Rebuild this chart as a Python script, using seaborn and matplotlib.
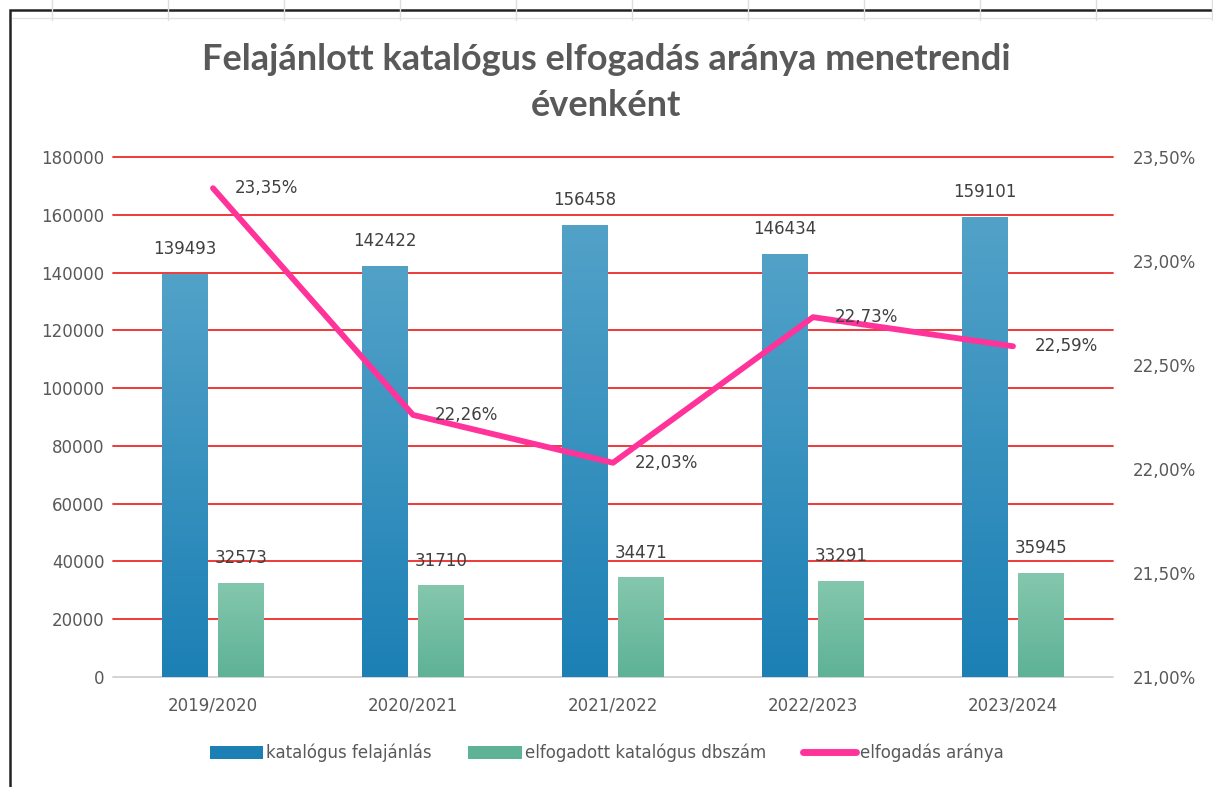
import numpy as np
import pandas as pd
import matplotlib
matplotlib.use('Agg')
import matplotlib.pyplot as plt
import seaborn as sns
from matplotlib.patches import Patch, Rectangle
from matplotlib.lines import Line2D
from matplotlib.colors import LinearSegmentedColormap

# adatok
evek = ['2019/2020', '2020/2021', '2021/2022', '2022/2023', '2023/2024']
felajanlas = [139493, 142422, 156458, 146434, 159101]
elfogadott = [32573, 31710, 34471, 33291, 35945]
arany = [23.35, 22.26, 22.03, 22.73, 22.59]

nev_kek = 'katalógus felajánlás'
nev_zold = 'elfogadott katalógus dbszám'
nev_vonal = 'elfogadás aránya'

df = pd.DataFrame({
    'ev': evek * 2,
    'ertek': felajanlas + elfogadott,
    'sorozat': [nev_kek] * 5 + [nev_zold] * 5,
})

sns.set_style('white')
plt.rcParams['font.family'] = ['DejaVu Sans']

kek_fent, kek_lent = '#52a2c8', '#1c80b5'
zold_fent, zold_lent = '#84c7ae', '#5eb296'
pink = '#ff3399'
szurke = '#595959'

fig = plt.figure(figsize=(12.13, 7.87), dpi=100)
ax = fig.add_axes([113 / 1213, 1 - 677 / 787, 1000 / 1213, 520 / 787])

sns.barplot(data=df, x='ev', y='ertek', hue='sorozat', order=evek,
            hue_order=[nev_kek, nev_zold], palette=[kek_lent, zold_lent],
            width=0.56, gap=0.18, ax=ax, legend=False, zorder=3)

ax.set_xlim(-0.5, 4.5)
ax.set_ylim(0, 180000)
ax.set_yticks(np.arange(0, 180001, 20000))
ax.set_xlabel('')
ax.set_ylabel('')
for s in ax.spines.values():
    s.set_visible(False)

# racsvonalak
for v in np.arange(20000, 180001, 20000):
    ax.axhline(v, color='#ee2a2a', lw=1.3, zorder=1, clip_on=False)
ax.axhline(0, color='#d0d0d0', lw=1.3, zorder=1, clip_on=False)

# szinatmenet a oszlopokon
bars = list(ax.patches)
for i, p in enumerate(bars):
    x0, y0 = p.get_x(), p.get_y()
    w, h = p.get_width(), p.get_height()
    if h <= 0:
        continue
    if i < 5:
        cmap = LinearSegmentedColormap.from_list('k', [kek_lent, kek_fent])
    else:
        cmap = LinearSegmentedColormap.from_list('z', [zold_lent, zold_fent])
    grad = np.linspace(0, 1, 256).reshape(-1, 1)
    im = ax.imshow(grad, extent=[x0, x0 + w, y0, y0 + h], origin='lower',
                   aspect='auto', cmap=cmap, zorder=3)
    im.set_clip_path(p)
    p.set_facecolor('none')
    p.set_edgecolor('none')
ax.set_xlim(-0.5, 4.5)
ax.set_ylim(0, 180000)

# oszlop feliratok
for i, p in enumerate(bars):
    cx = p.get_x() + p.get_width() / 2
    val = felajanlas[i] if i < 5 else elfogadott[i - 5]
    ax.text(cx, p.get_height() + 5500, str(val), ha='center', va='bottom',
            fontsize=12, color='#404040', zorder=5)

ax.tick_params(axis='both', length=0, labelsize=12, labelcolor=szurke)
ax.tick_params(axis='x', pad=14)
ax.tick_params(axis='y', pad=6)

# jobb tengely, vonal
ax2 = ax.twinx()
sns.lineplot(x=np.arange(5), y=arany, ax=ax2, color=pink, lw=4.2,
             solid_capstyle='round', zorder=4)
ax2.set_ylim(21.0, 23.5)
ax2.set_yticks(np.arange(21.0, 23.51, 0.5))
ax2.set_yticklabels([f'{v:.2f}%'.replace('.', ',') for v in np.arange(21.0, 23.51, 0.5)])
ax2.tick_params(axis='y', length=0, labelsize=12, labelcolor=szurke, pad=14)
for s in ax2.spines.values():
    s.set_visible(False)
ax2.set_xlim(-0.5, 4.5)

for i, v in enumerate(arany):
    ax2.text(i + 0.11, v, f'{v:.2f}%'.replace('.', ','), ha='left', va='center',
             fontsize=12, color='#404040', zorder=6)

# cim
cim_font = ['Lato', 'DejaVu Sans']
fig.text(0.5, 1 - 60 / 787, 'Felajánlott katalógus elfogadás aránya menetrendi',
         ha='center', va='center', fontsize=26, fontweight='bold', color=szurke,
         family=cim_font)
fig.text(0.5, 1 - 105 / 787, 'évenként',
         ha='center', va='center', fontsize=26, fontweight='bold', color=szurke,
         family=cim_font)

# jelmagyarazat
handles = [Patch(facecolor=kek_lent, edgecolor='none'),
           Patch(facecolor=zold_lent, edgecolor='none'),
           Line2D([0], [0], color=pink, lw=5)]
fig.legend(handles, [nev_kek, nev_zold, nev_vonal], loc='center',
           bbox_to_anchor=(0.5, 1 - 753 / 787), ncol=3, frameon=False,
           fontsize=12, labelcolor=szurke, handlelength=3.2, handleheight=0.9,
           handletextpad=0.2, columnspacing=2.2)

# keret es excel racs
for x in np.arange(52, 1213, 116):
    fig.add_artist(Line2D([x / 1213, x / 1213], [1 - 20 / 787, 1], color='#dddddd',
                          lw=1, transform=fig.transFigure))
fig.add_artist(Line2D([12 / 1213, 1], [1 - 18 / 787, 1 - 18 / 787], color='#e2e2e2',
                      lw=1, transform=fig.transFigure))
fig.add_artist(Rectangle((10 / 1213, -0.01), 1.02, 1 - 10 / 787 + 0.01,
                         transform=fig.transFigure, fill=False,
                         edgecolor='#222222', lw=1.8))

fig.savefig('out.png', dpi=100)
